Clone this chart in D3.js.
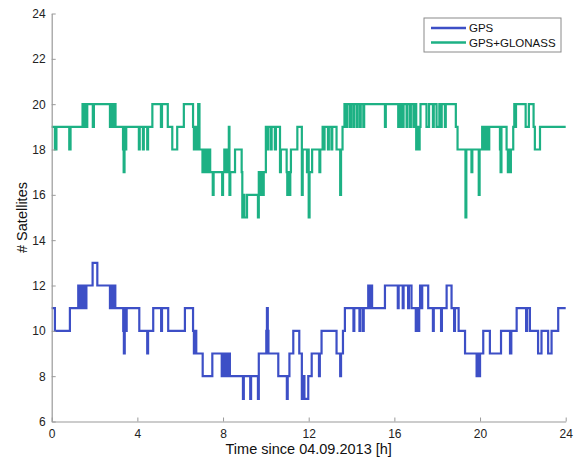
<!DOCTYPE html>
<html>
<head>
<meta charset="utf-8">
<script src="https://cdn.jsdelivr.net/npm/d3@7"></script>
<style>
  body { margin: 0; background: #fff; }
  text { font-family: "Liberation Sans", Arial, sans-serif; }
</style>
</head>
<body>
<div id="chart"></div>
<script>
// step changes: [hour, satellites], value holds until the next change
const gpsSteps = [
  [0, 11], [0.15, 10], [0.85, 11],
  [1.24, 12], [1.29, 11], [1.36, 12], [1.41, 11], [1.5, 12], [1.55, 11], [1.62, 12],
  [1.91, 13], [2.13, 12],
  [2.72, 11], [2.77, 12], [2.85, 11], [2.9, 12], [2.97, 11],
  [3.34, 10], [3.37, 9], [3.41, 11], [3.45, 10], [3.5, 11],
  [4.09, 10], [4.46, 9], [4.5, 10], [4.74, 11], [5.11, 10], [5.15, 11], [5.44, 10],
  [6.22, 11], [6.6, 10], [6.64, 9], [6.69, 10], [6.75, 9],
  [7.05, 8], [7.5, 9],
  [7.94, 8], [7.99, 9], [8.06, 8], [8.12, 9], [8.19, 8], [8.24, 9], [8.32, 8],
  [8.93, 7], [8.97, 8], [9.27, 7], [9.31, 8], [9.63, 7], [9.67, 9],
  [10.02, 10], [10.05, 11], [10.09, 10], [10.12, 9],
  [10.58, 8], [10.98, 7], [11.02, 8], [11.1, 9], [11.28, 10], [11.56, 9],
  [11.68, 7], [11.76, 8], [11.8, 7], [11.98, 8], [12.14, 9], [12.48, 8], [12.52, 9],
  [12.6, 10], [13.3, 9], [13.47, 8], [13.51, 9], [13.6, 10],
  [13.69, 11], [14.09, 10], [14.13, 11], [14.37, 10], [14.41, 11], [14.53, 10], [14.57, 11],
  [14.78, 12], [14.83, 11], [14.88, 12], [14.96, 11],
  [15.56, 12], [16.16, 11], [16.2, 12], [16.39, 11], [16.43, 12], [16.64, 11], [16.68, 12],
  [16.8, 11], [17.0, 10], [17.04, 11], [17.12, 10], [17.16, 11],
  [17.2, 12], [17.25, 11], [17.3, 12], [17.58, 11],
  [17.8, 10], [17.84, 11], [18.18, 10], [18.22, 11],
  [18.44, 12], [18.67, 11], [18.79, 10], [18.83, 11],
  [19.0, 10], [19.3, 9],
  [19.84, 8], [19.89, 9], [19.93, 8], [20.0, 9],
  [20.15, 10], [20.46, 9], [20.98, 10], [21.4, 9], [21.46, 10],
  [21.71, 11], [22.15, 10], [22.2, 11], [22.33, 10],
  [22.71, 9], [22.87, 10], [23.18, 9], [23.34, 10], [23.65, 11], [24, 11]
];

const glonassSteps = [
  [0, 19], [0.15, 18], [0.22, 19], [0.82, 18], [0.88, 19],
  [1.44, 20], [1.49, 19], [1.55, 20], [1.6, 19], [1.66, 20],
  [1.92, 19], [1.97, 20],
  [2.72, 19], [2.77, 20], [2.85, 19], [2.9, 20], [2.98, 19],
  [3.33, 18], [3.36, 17], [3.4, 19], [3.44, 18], [3.48, 19],
  [4.07, 18], [4.11, 19], [4.26, 18], [4.3, 19], [4.46, 18], [4.5, 19],
  [4.7, 20], [5.1, 19], [5.15, 20], [5.42, 19], [5.63, 18], [5.86, 19],
  [6.17, 20], [6.6, 19], [6.64, 18], [6.69, 19], [6.74, 18], [6.84, 20], [6.9, 18],
  [7.04, 17], [7.09, 18], [7.16, 17], [7.21, 18], [7.3, 17], [7.35, 18], [7.4, 17],
  [7.52, 16], [7.56, 17], [7.96, 16], [8.0, 17],
  [8.06, 18], [8.1, 17], [8.17, 18], [8.21, 17], [8.27, 19], [8.3, 16], [8.34, 17],
  [8.56, 18], [8.87, 17], [8.9, 15], [8.96, 16], [9.0, 15], [9.12, 16],
  [9.63, 15], [9.67, 17], [9.75, 16], [9.79, 17], [9.85, 16], [9.9, 17],
  [10.0, 19], [10.06, 18], [10.1, 19], [10.22, 18], [10.27, 19], [10.42, 18], [10.47, 19],
  [10.66, 17], [10.7, 18],
  [10.97, 17], [11.0, 16], [11.05, 17], [11.1, 16], [11.14, 17], [11.17, 18],
  [11.47, 19], [11.68, 16], [11.72, 18], [11.92, 17], [11.96, 18], [12.0, 15], [12.04, 17],
  [12.16, 18], [12.5, 17], [12.54, 18],
  [12.65, 19], [12.7, 18], [12.74, 19], [12.9, 18], [12.94, 19], [13.06, 18], [13.1, 19],
  [13.3, 18], [13.47, 16], [13.51, 18], [13.58, 19],
  [13.67, 20], [13.77, 19], [13.81, 20], [13.93, 19], [13.97, 20], [14.08, 19], [14.12, 20],
  [14.24, 19], [14.28, 20], [14.39, 19], [14.43, 20], [14.55, 19], [14.59, 20],
  [15.56, 19], [15.6, 20], [16.18, 19], [16.22, 20], [16.26, 19], [16.3, 20],
  [16.39, 19], [16.43, 20], [16.57, 19], [16.61, 20],
  [16.73, 19], [16.77, 20], [16.89, 19], [16.93, 20],
  [17.02, 18], [17.07, 19], [17.12, 18], [17.18, 19],
  [17.22, 20], [17.5, 19], [17.62, 20], [17.8, 19], [17.84, 20], [17.97, 19],
  [18.1, 20], [18.17, 19], [18.21, 20], [18.36, 19], [18.4, 20],
  [18.87, 19], [18.95, 18], [19.32, 15], [19.36, 18], [19.6, 17], [19.64, 18], [19.94, 16], [19.98, 18],
  [20.1, 19], [20.15, 18], [20.2, 19], [20.26, 18], [20.31, 19], [20.38, 18], [20.43, 19],
  [20.93, 18], [20.96, 17], [21.0, 19],
  [21.24, 18], [21.3, 17], [21.34, 18], [21.4, 17], [21.44, 18],
  [21.55, 19], [21.6, 20], [21.64, 19], [21.68, 20],
  [22.13, 19], [22.28, 20], [22.5, 19], [22.56, 18], [22.8, 19], [24, 19]
];

const xTicks = [0, 4, 8, 12, 16, 20, 24];
const yTicks = [6, 8, 10, 12, 14, 16, 18, 20, 22, 24];
const seriesNames = ["GPS", "GPS+GLONASS"];
const colors = ["#3d4fc6", "#1db184"];

const W = 576, H = 459;
const margin = { top: 13.5, right: 10.3, bottom: 37.5, left: 51.7 };
const width = W - margin.left - margin.right;
const height = H - margin.top - margin.bottom;

const svg = d3.select("#chart")
  .append("svg")
  .attr("width", W)
  .attr("height", H)
  .append("g")
  .attr("transform", "translate(" + margin.left + "," + margin.top + ")");

const x = d3.scaleLinear().domain([0, 24]).range([0, width]);
const y = d3.scaleLinear().domain([6, 24]).range([height, 0]);

const line = d3.line()
  .x(d => x(d[0]))
  .y(d => y(d[1]))
  .curve(d3.curveStepAfter);

[gpsSteps, glonassSteps].forEach((s, i) => {
  svg.append("path")
    .datum(s)
    .attr("fill", "none")
    .attr("stroke", colors[i])
    .attr("stroke-width", 2.2)
    .attr("d", line);
});

// axes, ticks pointing inward like matlab
const xAxis = svg.append("g")
  .attr("transform", "translate(0," + height + ")")
  .call(d3.axisBottom(x).tickValues(xTicks).tickSize(-4).tickPadding(8).tickSizeOuter(0));
const yAxis = svg.append("g")
  .call(d3.axisLeft(y).tickValues(yTicks).tickSize(-4).tickPadding(6).tickSizeOuter(0));

[xAxis, yAxis].forEach(a => {
  a.select(".domain").attr("stroke", "#9a9a9a").attr("stroke-width", 1.2);
  a.selectAll(".tick line").attr("stroke", "#9a9a9a");
  a.selectAll(".tick text")
    .attr("fill", "#222")
    .style("font-size", "12px")
    .style("font-family", "'Liberation Sans', Arial, sans-serif");
});

svg.append("text")
  .attr("x", width / 2)
  .attr("y", height + 32)
  .attr("text-anchor", "middle")
  .style("font-size", "14.5px")
  .attr("fill", "#111")
  .text("Time since 04.09.2013 [h]");

svg.append("text")
  .attr("transform", "rotate(-90)")
  .attr("x", -height / 2)
  .attr("y", -25)
  .attr("text-anchor", "middle")
  .style("font-size", "14.5px")
  .attr("fill", "#111")
  .text("# Satellites");

// legend
const lg = svg.append("g")
  .attr("transform", "translate(" + (424 - margin.left) + "," + (18 - margin.top) + ")");
lg.append("rect")
  .attr("width", 137)
  .attr("height", 34)
  .attr("fill", "#fff")
  .attr("stroke", "#8a8a8a")
  .attr("stroke-width", 1);
seriesNames.forEach((n, i) => {
  lg.append("line")
    .attr("x1", 7).attr("x2", 42)
    .attr("y1", 10 + i * 14.5).attr("y2", 10 + i * 14.5)
    .attr("stroke", colors[i])
    .attr("stroke-width", 2.4);
  lg.append("text")
    .attr("x", 45)
    .attr("y", 10 + i * 14.5)
    .attr("dy", "0.35em")
    .style("font-size", "11.5px")
    .attr("fill", "#111")
    .text(n);
});
</script>
</body>
</html>
